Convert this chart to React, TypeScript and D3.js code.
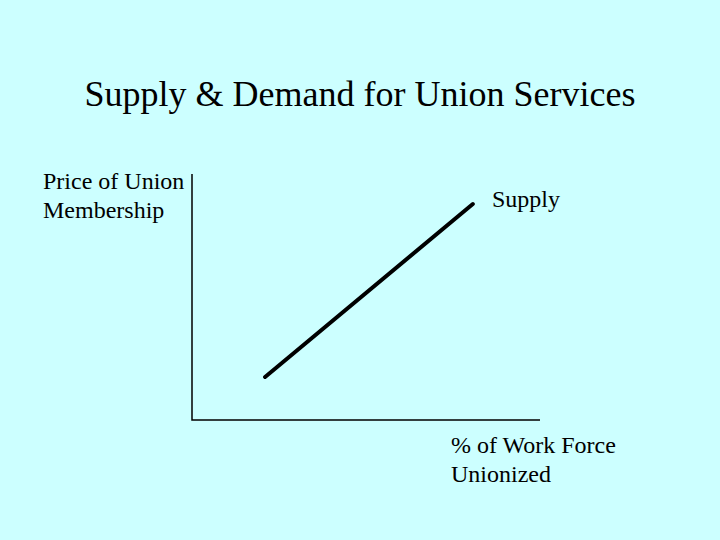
import { useEffect, useRef } from "react";
import * as d3 from "d3";

const title = "Supply & Demand for Union Services";
const yLabel = ["Price of Union", "Membership"];
const xLabel = ["% of Work Force", "Unionized"];
const seriesName = "Supply";
const supplyX = [21, 80.7];
const supplyY = [17.5, 87.8];

const App = () => {
  const svgRef = useRef<SVGSVGElement>(null);
  const width = 720;
  const height = 540;
  const margin = { top: 174, right: 180, bottom: 120, left: 192 };

  useEffect(() => {
    const svg = d3.select(svgRef.current);
    svg.selectAll("*").remove();
    const font = "'Liberation Serif', 'Times New Roman', serif";

    svg.append("rect").attr("width", width).attr("height", height).attr("fill", "#ccffff");

    const xScale = d3.scaleLinear().domain([0, 100]).range([margin.left, width - margin.right]);
    const yScale = d3.scaleLinear().domain([0, 100]).range([height - margin.bottom, margin.top]);

    // axes, plain lines with no ticks
    svg
      .append("path")
      .attr(
        "d",
        `M${xScale(0)},${yScale(100)}V${yScale(0)}H${xScale(100)}`
      )
      .attr("fill", "none")
      .attr("stroke", "black")
      .attr("stroke-width", 1.5);

    // Title
    svg
      .append("text")
      .attr("x", 360)
      .attr("y", 106)
      .attr("text-anchor", "middle")
      .style("font-family", font)
      .style("font-size", "36px")
      .text(title);

    // Y label
    yLabel.forEach((t, i) => {
      svg
        .append("text")
        .attr("x", 43)
        .attr("y", 189 + i * 29)
        .style("font-family", font)
        .style("font-size", "24px")
        .text(t);
    });

    // X label
    xLabel.forEach((t, i) => {
      svg
        .append("text")
        .attr("x", 451)
        .attr("y", 453 + i * 29)
        .style("font-family", font)
        .style("font-size", "24px")
        .text(t);
    });

    // Supply line
    const line = d3
      .line<number>()
      .x((d) => xScale(d))
      .y((d, i) => yScale(supplyY[i]));

    svg
      .append("path")
      .datum(supplyX)
      .attr("d", line)
      .attr("fill", "none")
      .attr("stroke", "black")
      .attr("stroke-width", 4)
      .attr("stroke-linecap", "round");

    svg
      .append("text")
      .attr("x", 492)
      .attr("y", 207)
      .style("font-family", font)
      .style("font-size", "24px")
      .text(seriesName);
  }, []);

  return (
    <svg
      ref={svgRef}
      width={width}
      height={height}
      style={{ position: "absolute", left: 0, top: 0 }}
    ></svg>
  );
};

export default App;
